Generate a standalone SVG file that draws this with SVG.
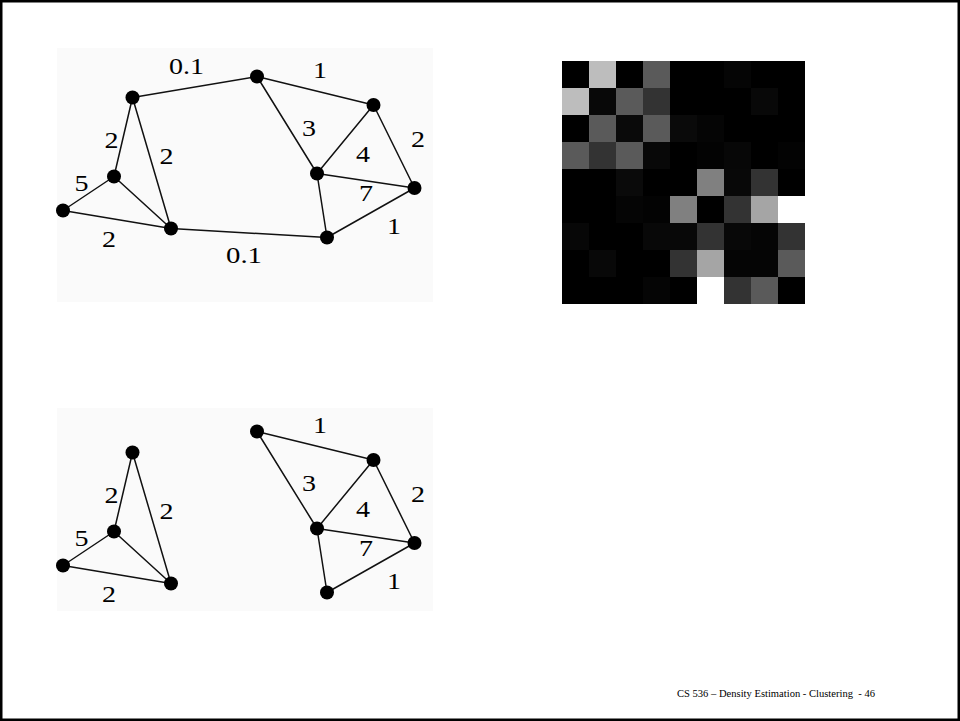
<svg xmlns="http://www.w3.org/2000/svg" width="960" height="721" viewBox="0 0 960 721">
<style>
.bg{fill:#fafafa}
.e{stroke:#111;stroke-width:1.5;fill:none;stroke-linecap:round}
.n{fill:#000}
.l{font-family:"Liberation Serif","Times New Roman",serif;font-size:23px;fill:#000;text-anchor:middle}
.f{font-family:"Liberation Serif","Times New Roman",serif;font-size:11px;fill:#000;white-space:pre}
</style>
<rect x="0" y="0" width="960" height="721" fill="#fff"/>
<rect x="1.25" y="1.25" width="957.5" height="718.5" fill="none" stroke="#000" stroke-width="2.5"/>

<!-- top graph -->
<g id="top-graph">
<rect class="bg" x="57" y="48" width="376" height="254"/>
<g id="top-edges">
<line class="e" x1="132.5" y1="97.5" x2="257" y2="76.5"/>
<line class="e" x1="257" y1="76.5" x2="373.5" y2="105"/>
<line class="e" x1="257" y1="76.5" x2="317" y2="173.5"/>
<line class="e" x1="373.5" y1="105" x2="317" y2="173.5"/>
<line class="e" x1="373.5" y1="105" x2="414.5" y2="188"/>
<line class="e" x1="317" y1="173.5" x2="414.5" y2="188"/>
<line class="e" x1="317" y1="173.5" x2="327" y2="237.5"/>
<line class="e" x1="327" y1="237.5" x2="414.5" y2="188"/>
<line class="e" x1="132.5" y1="97.5" x2="114" y2="176.5"/>
<line class="e" x1="132.5" y1="97.5" x2="171" y2="228.5"/>
<line class="e" x1="114" y1="176.5" x2="63" y2="210.5"/>
<line class="e" x1="114" y1="176.5" x2="171" y2="228.5"/>
<line class="e" x1="63" y1="210.5" x2="171" y2="228.5"/>
<line class="e" x1="171" y1="228.5" x2="327" y2="237.5"/>
</g>
<g id="top-labels">
<text class="l" x="186.5" y="74" textLength="35" lengthAdjust="spacingAndGlyphs">0.1</text>
<text class="l" x="320" y="77.5" textLength="14" lengthAdjust="spacingAndGlyphs">1</text>
<text class="l" x="309" y="135.5" textLength="14" lengthAdjust="spacingAndGlyphs">3</text>
<text class="l" x="363" y="161.5" textLength="14" lengthAdjust="spacingAndGlyphs">4</text>
<text class="l" x="418" y="147" textLength="14" lengthAdjust="spacingAndGlyphs">2</text>
<text class="l" x="366" y="201" textLength="14" lengthAdjust="spacingAndGlyphs">7</text>
<text class="l" x="394" y="233.5" textLength="14" lengthAdjust="spacingAndGlyphs">1</text>
<text class="l" x="244" y="262.5" textLength="36" lengthAdjust="spacingAndGlyphs">0.1</text>
<text class="l" x="111.5" y="147.5" textLength="14" lengthAdjust="spacingAndGlyphs">2</text>
<text class="l" x="166.5" y="163.5" textLength="14" lengthAdjust="spacingAndGlyphs">2</text>
<text class="l" x="81.5" y="190.5" textLength="14" lengthAdjust="spacingAndGlyphs">5</text>
<text class="l" x="109" y="246.5" textLength="14" lengthAdjust="spacingAndGlyphs">2</text>
</g>
<g id="tA"><circle class="n" cx="132.5" cy="97.5" r="7"/></g>
<g id="tB"><circle class="n" cx="257" cy="76.5" r="7"/></g>
<g id="tC"><circle class="n" cx="373.5" cy="105" r="7"/></g>
<g id="tD"><circle class="n" cx="114" cy="176.5" r="7"/></g>
<g id="tE"><circle class="n" cx="63" cy="210.5" r="7"/></g>
<g id="tF"><circle class="n" cx="171" cy="228.5" r="7"/></g>
<g id="tG"><circle class="n" cx="317" cy="173.5" r="7"/></g>
<g id="tH"><circle class="n" cx="414.5" cy="188" r="7"/></g>
<g id="tI"><circle class="n" cx="327" cy="237.5" r="7"/></g>
</g>

<!-- bottom graph -->
<g id="bottom-graph">
<rect class="bg" x="57" y="408" width="376" height="203"/>
<g id="bottom-edges">
<line class="e" x1="257" y1="431.5" x2="373.5" y2="460"/>
<line class="e" x1="257" y1="431.5" x2="317" y2="528.5"/>
<line class="e" x1="373.5" y1="460" x2="317" y2="528.5"/>
<line class="e" x1="373.5" y1="460" x2="414.5" y2="543"/>
<line class="e" x1="317" y1="528.5" x2="414.5" y2="543"/>
<line class="e" x1="317" y1="528.5" x2="327" y2="592.5"/>
<line class="e" x1="327" y1="592.5" x2="414.5" y2="543"/>
<line class="e" x1="132.5" y1="452.5" x2="114" y2="531.5"/>
<line class="e" x1="132.5" y1="452.5" x2="171" y2="583.5"/>
<line class="e" x1="114" y1="531.5" x2="63" y2="565.5"/>
<line class="e" x1="114" y1="531.5" x2="171" y2="583.5"/>
<line class="e" x1="63" y1="565.5" x2="171" y2="583.5"/>
</g>
<g id="bottom-labels">
<text class="l" x="320" y="432.5" textLength="14" lengthAdjust="spacingAndGlyphs">1</text>
<text class="l" x="309" y="490.5" textLength="14" lengthAdjust="spacingAndGlyphs">3</text>
<text class="l" x="363" y="516.5" textLength="14" lengthAdjust="spacingAndGlyphs">4</text>
<text class="l" x="418" y="502" textLength="14" lengthAdjust="spacingAndGlyphs">2</text>
<text class="l" x="366" y="556" textLength="14" lengthAdjust="spacingAndGlyphs">7</text>
<text class="l" x="394" y="588.5" textLength="14" lengthAdjust="spacingAndGlyphs">1</text>
<text class="l" x="111.5" y="502.5" textLength="14" lengthAdjust="spacingAndGlyphs">2</text>
<text class="l" x="166.5" y="518.5" textLength="14" lengthAdjust="spacingAndGlyphs">2</text>
<text class="l" x="81.5" y="545.5" textLength="14" lengthAdjust="spacingAndGlyphs">5</text>
<text class="l" x="109" y="601.5" textLength="14" lengthAdjust="spacingAndGlyphs">2</text>
</g>
<g id="bA"><circle class="n" cx="132.5" cy="452.5" r="7"/></g>
<g id="bB"><circle class="n" cx="257" cy="431.5" r="7"/></g>
<g id="bC"><circle class="n" cx="373.5" cy="460" r="7"/></g>
<g id="bD"><circle class="n" cx="114" cy="531.5" r="7"/></g>
<g id="bE"><circle class="n" cx="63" cy="565.5" r="7"/></g>
<g id="bF"><circle class="n" cx="171" cy="583.5" r="7"/></g>
<g id="bG"><circle class="n" cx="317" cy="528.5" r="7"/></g>
<g id="bH"><circle class="n" cx="414.5" cy="543" r="7"/></g>
<g id="bI"><circle class="n" cx="327" cy="592.5" r="7"/></g>
</g>

<!-- affinity matrix -->
<g id="matrix" shape-rendering="crispEdges">
<rect x="562" y="61" width="243" height="243" fill="#000"/>
<rect x="589" y="61" width="27" height="27" fill="#bdbdbd"/>
<rect x="643" y="61" width="27" height="27" fill="#5a5a5a"/>
<rect x="724" y="61" width="27" height="27" fill="#050505"/>
<rect x="562" y="88" width="27" height="27" fill="#bdbdbd"/>
<rect x="589" y="88" width="27" height="27" fill="#080808"/>
<rect x="616" y="88" width="27" height="27" fill="#5a5a5a"/>
<rect x="643" y="88" width="27" height="27" fill="#333"/>
<rect x="751" y="88" width="27" height="27" fill="#080808"/>
<rect x="589" y="115" width="27" height="27" fill="#5a5a5a"/>
<rect x="616" y="115" width="27" height="27" fill="#0a0a0a"/>
<rect x="643" y="115" width="27" height="27" fill="#5a5a5a"/>
<rect x="670" y="115" width="27" height="27" fill="#0a0a0a"/>
<rect x="697" y="115" width="27" height="27" fill="#050505"/>
<rect x="562" y="142" width="27" height="27" fill="#5a5a5a"/>
<rect x="589" y="142" width="27" height="27" fill="#333"/>
<rect x="616" y="142" width="27" height="27" fill="#5a5a5a"/>
<rect x="643" y="142" width="27" height="27" fill="#080808"/>
<rect x="697" y="142" width="27" height="27" fill="#030303"/>
<rect x="724" y="142" width="27" height="27" fill="#070707"/>
<rect x="778" y="142" width="27" height="27" fill="#030303"/>
<rect x="616" y="169" width="27" height="27" fill="#0a0a0a"/>
<rect x="697" y="169" width="27" height="27" fill="#808080"/>
<rect x="724" y="169" width="27" height="27" fill="#080808"/>
<rect x="751" y="169" width="27" height="27" fill="#333"/>
<rect x="616" y="196" width="27" height="27" fill="#050505"/>
<rect x="643" y="196" width="27" height="27" fill="#030303"/>
<rect x="670" y="196" width="27" height="27" fill="#808080"/>
<rect x="724" y="196" width="27" height="27" fill="#333"/>
<rect x="751" y="196" width="27" height="27" fill="#a5a5a5"/>
<rect x="778" y="196" width="27" height="27" fill="#fff"/>
<rect x="562" y="223" width="27" height="27" fill="#070707"/>
<rect x="643" y="223" width="27" height="27" fill="#080808"/>
<rect x="670" y="223" width="27" height="27" fill="#080808"/>
<rect x="697" y="223" width="27" height="27" fill="#333"/>
<rect x="724" y="223" width="27" height="27" fill="#080808"/>
<rect x="751" y="223" width="27" height="27" fill="#050505"/>
<rect x="778" y="223" width="27" height="27" fill="#333"/>
<rect x="589" y="250" width="27" height="27" fill="#080808"/>
<rect x="670" y="250" width="27" height="27" fill="#333"/>
<rect x="697" y="250" width="27" height="27" fill="#a5a5a5"/>
<rect x="724" y="250" width="27" height="27" fill="#050505"/>
<rect x="751" y="250" width="27" height="27" fill="#050505"/>
<rect x="778" y="250" width="27" height="27" fill="#5a5a5a"/>
<rect x="643" y="277" width="27" height="27" fill="#050505"/>
<rect x="697" y="277" width="27" height="27" fill="#fff"/>
<rect x="724" y="277" width="27" height="27" fill="#333"/>
<rect x="751" y="277" width="27" height="27" fill="#5a5a5a"/>
</g>

<text class="f" x="677" y="697" textLength="198" lengthAdjust="spacingAndGlyphs">CS 536 – Density Estimation - Clustering  - 46</text>
</svg>
